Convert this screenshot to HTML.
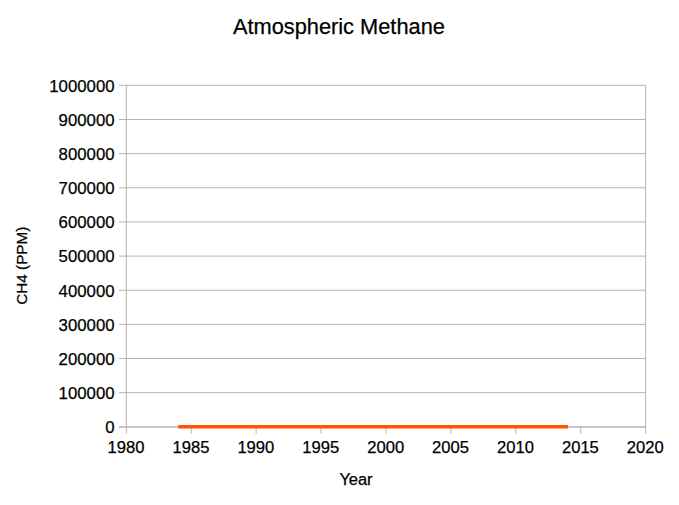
<!DOCTYPE html>
<html><head><meta charset="utf-8"><style>
html,body{margin:0;padding:0;background:#fff;}
body{width:679px;height:505px;overflow:hidden;}
svg{display:block;font-family:"Liberation Sans",sans-serif;}
</style></head><body>
<svg width="679" height="505" viewBox="0 0 679 505">
<rect width="679" height="505" fill="#fff"/>
<g stroke="#b3b3b3" stroke-width="1" fill="none">
<line x1="119.0" y1="85.35" x2="645.60" y2="85.35"/>
<line x1="119.0" y1="119.50" x2="645.60" y2="119.50"/>
<line x1="119.0" y1="153.64" x2="645.60" y2="153.64"/>
<line x1="119.0" y1="187.79" x2="645.60" y2="187.79"/>
<line x1="119.0" y1="221.93" x2="645.60" y2="221.93"/>
<line x1="119.0" y1="256.08" x2="645.60" y2="256.08"/>
<line x1="119.0" y1="290.22" x2="645.60" y2="290.22"/>
<line x1="119.0" y1="324.37" x2="645.60" y2="324.37"/>
<line x1="119.0" y1="358.51" x2="645.60" y2="358.51"/>
<line x1="119.0" y1="392.65" x2="645.60" y2="392.65"/>
<line x1="119.0" y1="427.00" x2="645.60" y2="427.00" stroke-width="1.6"/>
<line x1="126.35" y1="85.35" x2="126.35" y2="433.80"/>
<line x1="645.60" y1="85.35" x2="645.60" y2="433.80"/>
<line x1="191.26" y1="426.80" x2="191.26" y2="433.80"/>
<line x1="256.16" y1="426.80" x2="256.16" y2="433.80"/>
<line x1="321.07" y1="426.80" x2="321.07" y2="433.80"/>
<line x1="385.98" y1="426.80" x2="385.98" y2="433.80"/>
<line x1="450.88" y1="426.80" x2="450.88" y2="433.80"/>
<line x1="515.79" y1="426.80" x2="515.79" y2="433.80"/>
<line x1="580.69" y1="426.80" x2="580.69" y2="433.80"/>
</g>
<line x1="178.2" y1="426.8" x2="567.9" y2="426.8" stroke="#ff5400" stroke-width="3.6"/>
<g fill="#000" stroke="#000" stroke-width="0.25">
<text x="338.9" y="33.9" font-size="21.8" text-anchor="middle">Atmospheric Methane</text>
<g font-size="16.8" text-anchor="end">
<text x="114.6" y="91.95">1000000</text>
<text x="114.6" y="126.05">900000</text>
<text x="114.6" y="160.15">800000</text>
<text x="114.6" y="194.25">700000</text>
<text x="114.6" y="228.35">600000</text>
<text x="114.6" y="262.45">500000</text>
<text x="114.6" y="296.55">400000</text>
<text x="114.6" y="330.65">300000</text>
<text x="114.6" y="364.75">200000</text>
<text x="114.6" y="398.85">100000</text>
<text x="114.6" y="432.95">0</text>
</g>
<g font-size="16.6" text-anchor="middle">
<text x="126.05" y="453.3">1980</text>
<text x="190.96" y="453.3">1985</text>
<text x="255.86" y="453.3">1990</text>
<text x="320.77" y="453.3">1995</text>
<text x="385.68" y="453.3">2000</text>
<text x="450.58" y="453.3">2005</text>
<text x="515.49" y="453.3">2010</text>
<text x="580.39" y="453.3">2015</text>
<text x="645.30" y="453.3">2020</text>
</g>
<text x="356.0" y="485.3" font-size="15.6" text-anchor="middle" textLength="33.2" lengthAdjust="spacingAndGlyphs">Year</text>
<text transform="translate(27.3,265.7) rotate(-90)" font-size="15.3" text-anchor="middle">CH4 (PPM)</text>
</g>
</svg>
</body></html>
